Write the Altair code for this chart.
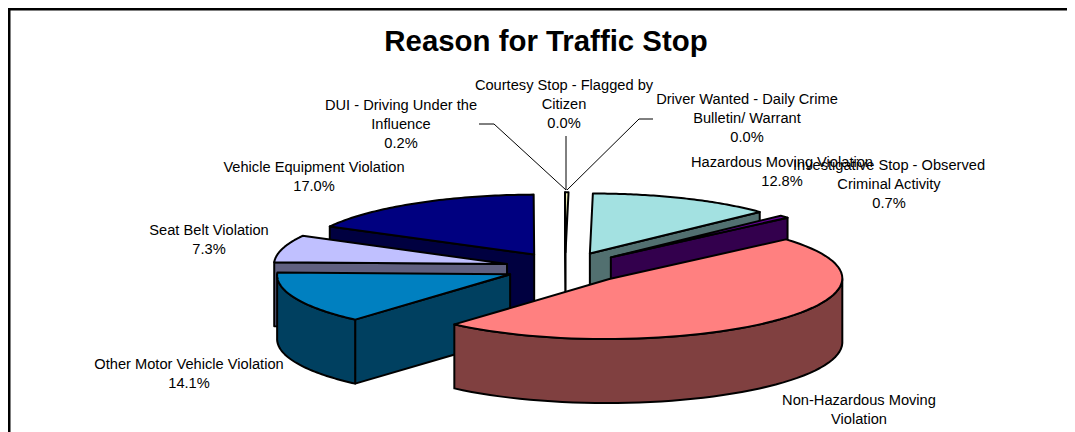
import math
import altair as alt

# ---- data, in clockwise pie order ----
names = ["Courtesy Stop - Flagged by\nCitizen",
         "Driver Wanted - Daily Crime\nBulletin/ Warrant",
         "Hazardous Moving Violation",
         "Investigative Stop - Observed\nCriminal Activity",
         "Non-Hazardous Moving\nViolation",
         "Other Motor Vehicle Violation",
         "Seat Belt Violation",
         "Vehicle Equipment Violation",
         "DUI - Driving Under the\nInfluence"]
values = [0.0, 0.0, 12.8, 0.7, 47.9, 14.1, 7.3, 17.0, 0.24]
shown = ["0.0%", "0.0%", "12.8%", "0.7%", "", "14.1%", "7.3%", "17.0%", "0.2%"]
top_colors = ["#9999FF", "#993366", "#A3E1E1", "#660099", "#FF8080", "#0080C0", "#C0C0FF", "#000080", "#FFFFC0"]
side_colors = ["#4D4D80", "#4D1A33", "#527070", "#33004D", "#804040", "#004060", "#606080", "#000040", "#808060"]

# ---- 3D pie geometry (screen pixels inside the chart) ----
CX, CY, RX, RY, DEPTH, EXPLODE, SHEAR = 558, 260, 233, 60, 64, 61, 0.05
draw_order = [7, 8, 2, 3, 6, 5, 4]


def pt(theta, ox, oy, dz=0):
    s, c = math.sin(theta), math.cos(theta)
    return [ox + RX * s + SHEAR * RY * c, oy - RY * c + dz]


def feature(ring, fill):
    ring = ring + [ring[0]]
    return {"type": "Feature", "properties": {"fill": fill},
            "geometry": {"type": "Polygon", "coordinates": [ring]}}


features = []
total = sum(values)
starts, acc = [], 0.0
for v in values:
    starts.append(acc)
    acc += v
for i in draw_order:
    a0 = starts[i] / total * 2 * math.pi
    a1 = (starts[i] + values[i]) / total * 2 * math.pi
    mid = (a0 + a1) / 2
    ox = CX + EXPLODE * math.sin(mid)
    oy = CY - EXPLODE * RY / RX * math.cos(mid)
    apex = [ox, oy]
    apex_low = [ox, oy + DEPTH]
    # flat side walls that face the viewer
    for ang, normal in ((a0, a0 - math.pi / 2), (a1, a1 + math.pi / 2)):
        if math.cos(normal) < -1e-6:
            p, q = pt(ang, ox, oy), pt(ang, ox, oy, DEPTH)
            features.append(feature([apex, p, q, apex_low], side_colors[i]))
    # curved wall on the near half
    lo, hi = max(a0, math.pi / 2), min(a1, 3 * math.pi / 2)
    if hi > lo:
        n = 48
        arc = [lo + (hi - lo) * k / n for k in range(n + 1)]
        ring = [pt(t, ox, oy) for t in arc] + [pt(t, ox, oy, DEPTH) for t in reversed(arc)]
        features.append(feature(ring, side_colors[i]))
    # top surface
    n = 64
    ring = [apex] + [pt(a0 + (a1 - a0) * k / n, ox, oy) for k in range(n + 1)]
    features.append(feature(ring, top_colors[i]))

# ---- layout of the texts and leader lines ----
W, H = 1059, 424
label_pos = {0: (556, 70), 1: (739, 84), 2: (774, 147), 3: (881, 150),
             4: (851, 385), 5: (181, 349), 6: (201, 215), 7: (306, 152), 8: (393, 90)}
label_rows = []
for i, (x, y) in label_pos.items():
    txt = names[i] + ("\n" + shown[i] if shown[i] else "")
    label_rows.append({"x": x, "y": y, "t": txt})

leaders = {"dui": [(471, 116), (486, 116), (558, 182)],
           "courtesy": [(558, 128), (558, 182)],
           "driver": [(645, 111), (631, 111), (559, 182)]}
leader_rows = [{"g": g, "o": k, "x": p[0], "y": p[1]}
               for g, pts in leaders.items() for k, p in enumerate(pts)]

X = alt.X("x:Q", scale=None, axis=None)
Y = alt.Y("y:Q", scale=None, axis=None)

pie = alt.Chart(alt.Data(values=features)).mark_geoshape(
    stroke="black", strokeWidth=2, strokeJoin="round"
).encode(
    fill=alt.Fill("properties.fill:N", scale=None, legend=None)
).project(type="identity", scale=1, translate=[0, 0])

lines = alt.Chart(alt.Data(values=leader_rows)).mark_line(
    color="black", strokeWidth=1
).encode(x=X, y=Y, detail="g:N", order="o:Q")

labels = alt.Chart(alt.Data(values=label_rows)).mark_text(
    font="Liberation Sans", fontSize=14.65, color="black", align="center",
    baseline="top", lineBreak="\n", lineHeight=19
).encode(x=X, y=Y, text="t:N")

title = alt.Chart(alt.Data(values=[{"x": 538, "y": 34, "t": "Reason for Traffic Stop"}])).mark_text(
    font="Liberation Sans", fontSize=29.4, fontWeight="bold", color="black", align="center", baseline="middle"
).encode(x=X, y=Y, text="t:N")

frame_rows = [{"g": "f", "o": 0, "x": 1, "y": H}, {"g": "f", "o": 1, "x": 1, "y": 1},
              {"g": "f", "o": 2, "x": W, "y": 1}]
frame = alt.Chart(alt.Data(values=frame_rows)).mark_line(
    color="black", strokeWidth=3
).encode(x=X, y=Y, detail="g:N", order="o:Q")

chart = alt.layer(pie, lines, labels, title, frame).properties(
    width=W, height=H, padding=0, autosize=alt.AutoSizeParams(type="none"),
    background="white"
).configure_view(stroke=None)

chart.save("out.html", embed_options={"renderer": "svg", "actions": False})
